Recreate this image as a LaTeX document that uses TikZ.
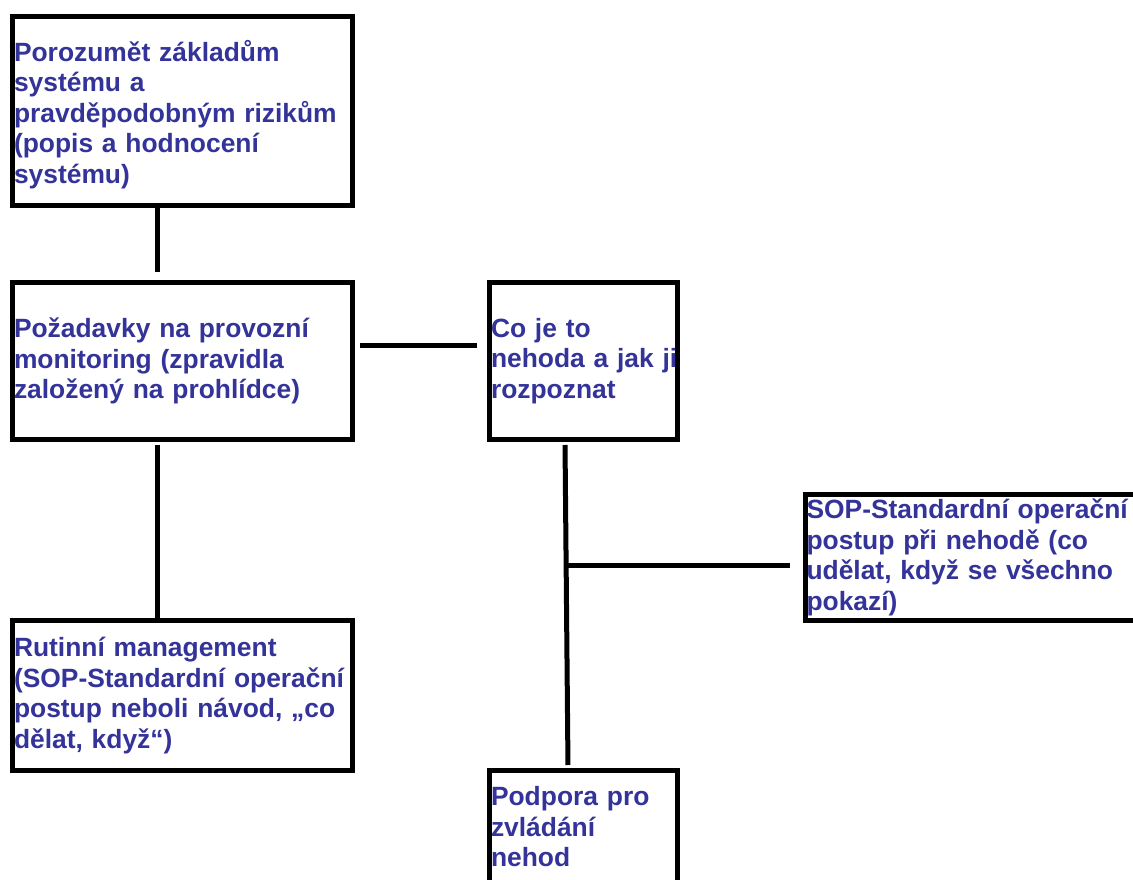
\documentclass[tikz,border=0pt]{standalone}
\usepackage{fontspec}
\setmainfont{Liberation Sans}
\definecolor{txtblue}{RGB}{51,51,153}
\begin{document}
\begin{tikzpicture}[x=1pt,y=-1pt,
  box/.style={rectangle, draw=black, line width=5pt, fill=white,
    inner xsep=1.5pt, inner ysep=0pt, align=left, text=txtblue,
    font=\fontsize{26.4}{30.6}\selectfont\bfseries},
  wide/.style={box, minimum width=340pt, text width=337pt},
  narrow/.style={box, minimum width=187.5pt, text width=184.5pt},
  link/.style={draw=black, line width=5pt}]
\useasboundingbox (0,0) rectangle (1133,880);
\clip (0,0) rectangle (1133,880);

% boxes
\node[wide, minimum height=189pt] (b1) at (182.5,111)
  {\rule{0pt}{28pt}Porozumět základům\\systému a\\pravděpodobným rizikům\\(popis a hodnocení\\systému)};
\node[wide, minimum height=157pt] (b2) at (182.5,361)
  {Požadavky na provozní\\monitoring (zpravidla\\založený na prohlídce)};
\node[narrow, minimum height=157pt] (b3) at (583.25,361)
  {Co je to\\\mbox{nehoda a jak ji}\\rozpoznat};
\node[wide, minimum height=126pt] (b4) at (975,557.5)
  {SOP-Standardní operační\\postup při nehodě (co\\udělat, když se všechno\\pokazí)};
\node[wide, minimum height=150pt] (b5) at (182.5,695.5)
  {Rutinní management\\(SOP-Standardní operační\\postup neboli návod, „co\\dělat, když“)};
\node[narrow, minimum height=143pt] (b6) at (583.25,842)
  {Podpora pro\\zvládání\\nehod\\\mbox{}};

% connectors
\draw[link, shorten >=8pt] ([xshift=-25.5pt]b1.south) -- ([xshift=-25.5pt]b2.north);
\draw[link, shorten <=5pt, shorten >=10pt] ([yshift=16pt]b2.east) -- ([yshift=16pt]b3.west);
\draw[link, shorten <=3pt] ([xshift=-25.5pt]b2.south) -- ([xshift=-25.5pt]b5.north);
\draw[link, shorten <=3pt, shorten >=3pt] ([xshift=-18.25pt]b3.south) -- ([xshift=-15.25pt]b6.north);
\coordinate (j) at (566.5,565);
\draw[link, shorten >=13pt] (j) -- (b4.west |- j);
\end{tikzpicture}
\end{document}
